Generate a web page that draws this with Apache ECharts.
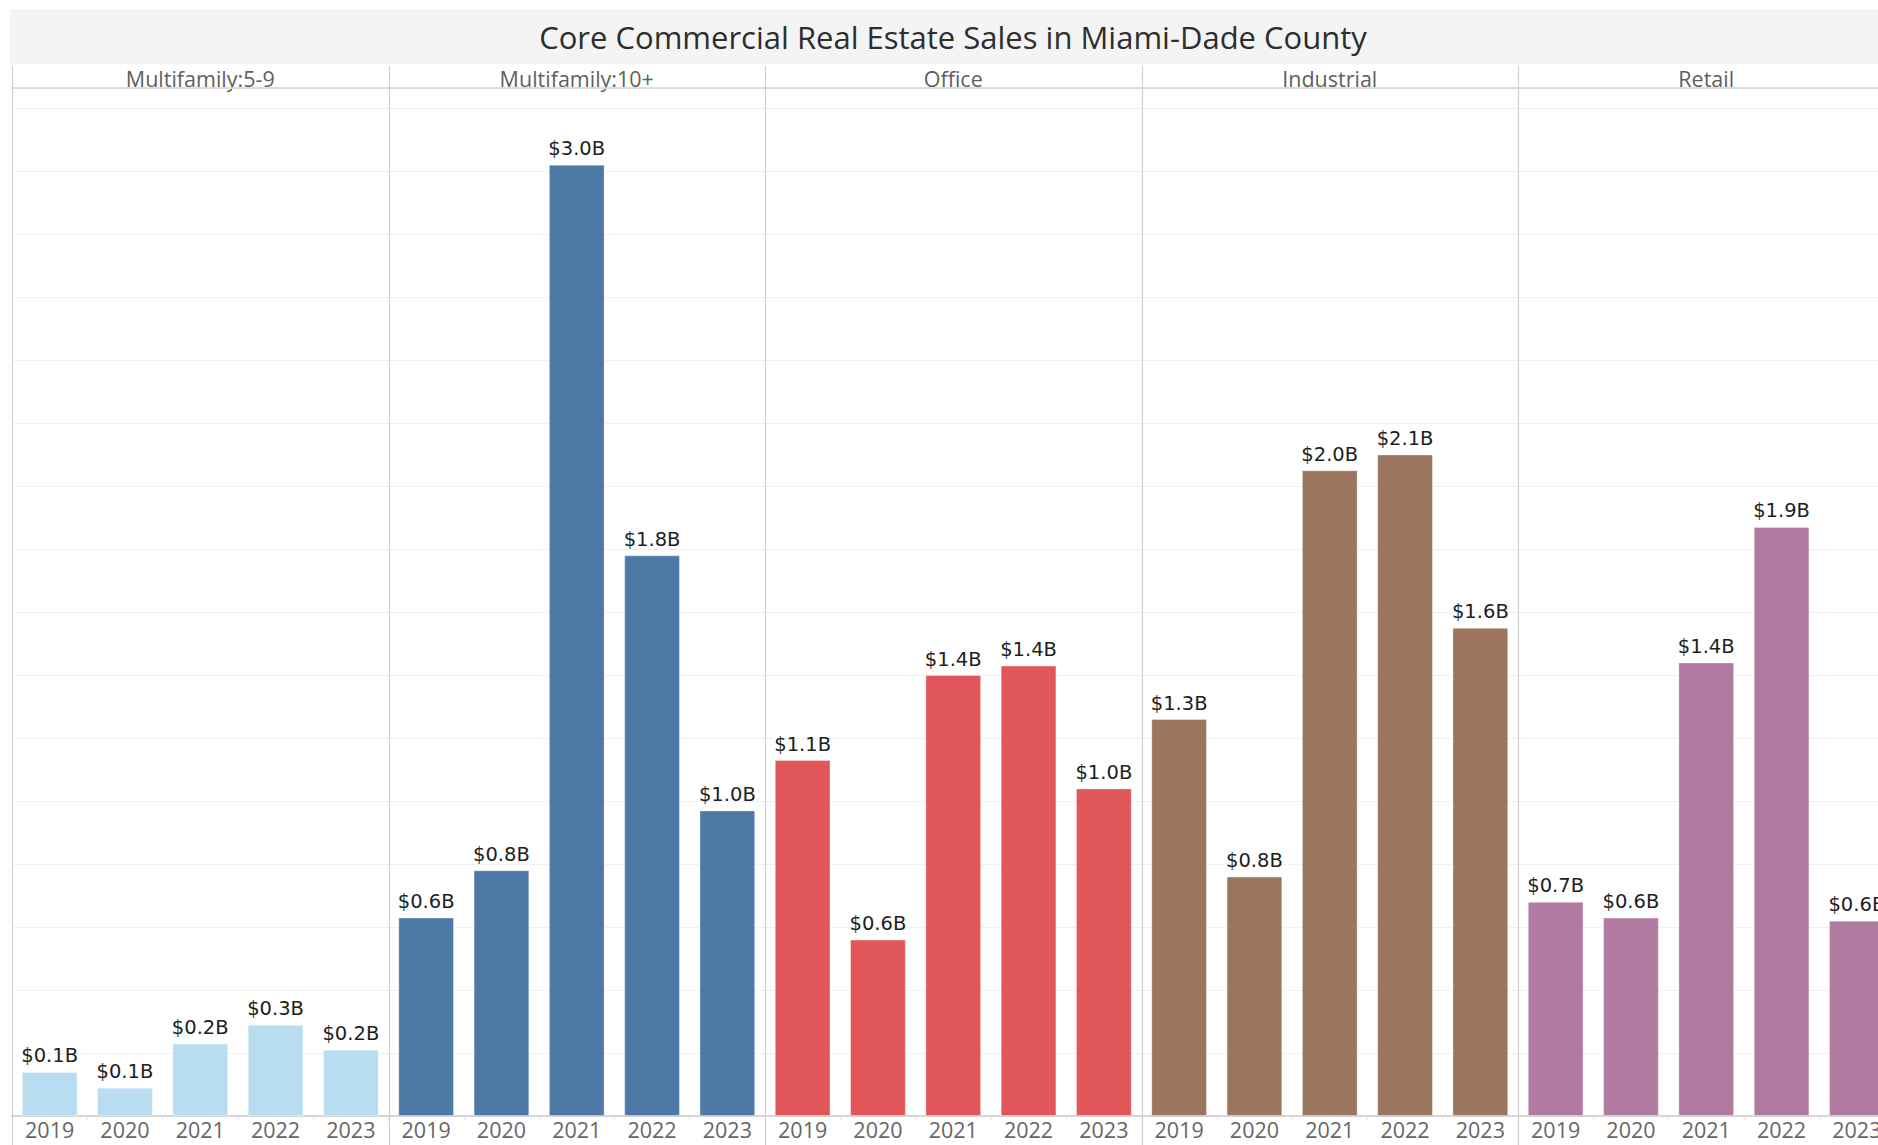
<!DOCTYPE html>
<html>
<head>
<meta charset="utf-8">
<title>Core Commercial Real Estate Sales in Miami-Dade County</title>
<script src="https://cdn.jsdelivr.net/npm/echarts@6/dist/echarts.min.js"></script>
<style>
  html, body { margin: 0; padding: 0; background: #ffffff; }
  #chart { width: 1878px; height: 1145px; }
</style>
</head>
<body>
<div id="chart"></div>
<script>
// Sales volume by property type and year, in billions of dollars
const years = ['2019', '2020', '2021', '2022', '2023'];
const panelNames = ['Multifamily:5-9', 'Multifamily:10+', 'Office', 'Industrial', 'Retail'];
const multifamilySmall = [0.14, 0.09, 0.23, 0.29, 0.21];
const multifamilyLarge = [0.63, 0.78, 3.02, 1.78, 0.97];
const office = [1.13, 0.56, 1.40, 1.43, 1.04];
const industrial = [1.26, 0.76, 2.05, 2.10, 1.55];
const retail = [0.68, 0.63, 1.44, 1.87, 0.62];
const panelColors = ['#b8ddf0', '#4e79a7', '#e15759', '#9c755f', '#b07aa1'];
const chartTitle = 'Core Commercial Real Estate Sales in Miami-Dade County';

const panelValues = [multifamilySmall, multifamilyLarge, office, industrial, retail];

// Layout of the small-multiple panels (the last one runs past the right edge)
const panelLeft = 12;
const panelWidth = 376.5;
const plotTop = 88;
const plotBottom = 1116;
const headerTop = 66;
const chartHeight = 1145;

const grids = [], xAxes = [], yAxes = [], series = [];
panelValues.forEach((vals, i) => {
  grids.push({
    left: panelLeft + i * panelWidth,
    width: panelWidth,
    top: plotTop,
    height: plotBottom - plotTop,
    containLabel: false,
    outerBoundsMode: 'none'
  });
  xAxes.push({
    type: 'category',
    gridIndex: i,
    data: years,
    axisLine: { show: true, lineStyle: { color: '#d6d6d6', width: 2 } },
    axisTick: { show: true, length: 5, interval: 0, lineStyle: { color: '#e8e8e8' } },
    axisLabel: {
      color: '#666666', fontFamily: 'Open Sans', fontSize: 21.5, lineHeight: 16,
      margin: 5, interval: 0, hideOverlap: false
    }
  });
  yAxes.push({
    type: 'value',
    gridIndex: i,
    min: 0,
    max: 3.2635,
    interval: 0.2,
    axisLine: { show: false },
    axisTick: { show: false },
    axisLabel: { show: false },
    splitLine: { show: true, lineStyle: { color: '#f1f1f1', width: 1 } }
  });
  series.push({
    type: 'bar',
    name: panelNames[i],
    xAxisIndex: i,
    yAxisIndex: i,
    data: vals,
    barWidth: '74%',
    itemStyle: { color: panelColors[i], borderColor: 'rgba(255,255,255,0.35)', borderWidth: 1 },
    label: {
      show: true,
      position: 'top',
      distance: 6,
      color: '#1e1e1e',
      fontFamily: 'DejaVu Sans',
      fontSize: 19.5,
      formatter: p => '$' + p.value.toFixed(1) + 'B'
    }
  });
});

// Title band, panel headers and panel dividers
const graphics = [
  { type: 'rect', shape: { x: 10, y: 9, width: 1900, height: 55 }, style: { fill: '#f4f4f4' }, silent: true },
  {
    type: 'text', x: 953, y: 37,
    style: {
      text: chartTitle, fill: '#2e2e2e', font: '31px "Open Sans"',
      textAlign: 'center', textVerticalAlign: 'middle'
    }
  },
  { type: 'line', shape: { x1: panelLeft, y1: plotTop, x2: 1900, y2: plotTop }, style: { stroke: '#d2d2d2', lineWidth: 1.5 }, z: 10 }
];
for (let i = 0; i <= panelNames.length; i++) {
  const x = Math.round(panelLeft + i * panelWidth) + 0.5;
  graphics.push({
    type: 'line', shape: { x1: x, y1: headerTop, x2: x, y2: chartHeight },
    style: { stroke: '#d0d0d0', lineWidth: 1.2 }, z: 10
  });
}
panelNames.forEach((name, i) => {
  graphics.push({
    type: 'text', x: panelLeft + (i + 0.5) * panelWidth, y: 78,
    style: {
      text: name, fill: '#5f5f5f', font: '21.5px "Open Sans"',
      textAlign: 'center', textVerticalAlign: 'middle'
    }
  });
});

const chart = echarts.init(document.getElementById('chart'), null, { renderer: 'svg' });
chart.setOption({
  animation: false,
  backgroundColor: '#ffffff',
  grid: grids,
  xAxis: xAxes,
  yAxis: yAxes,
  series: series,
  graphic: graphics
});
</script>
</body>
</html>
